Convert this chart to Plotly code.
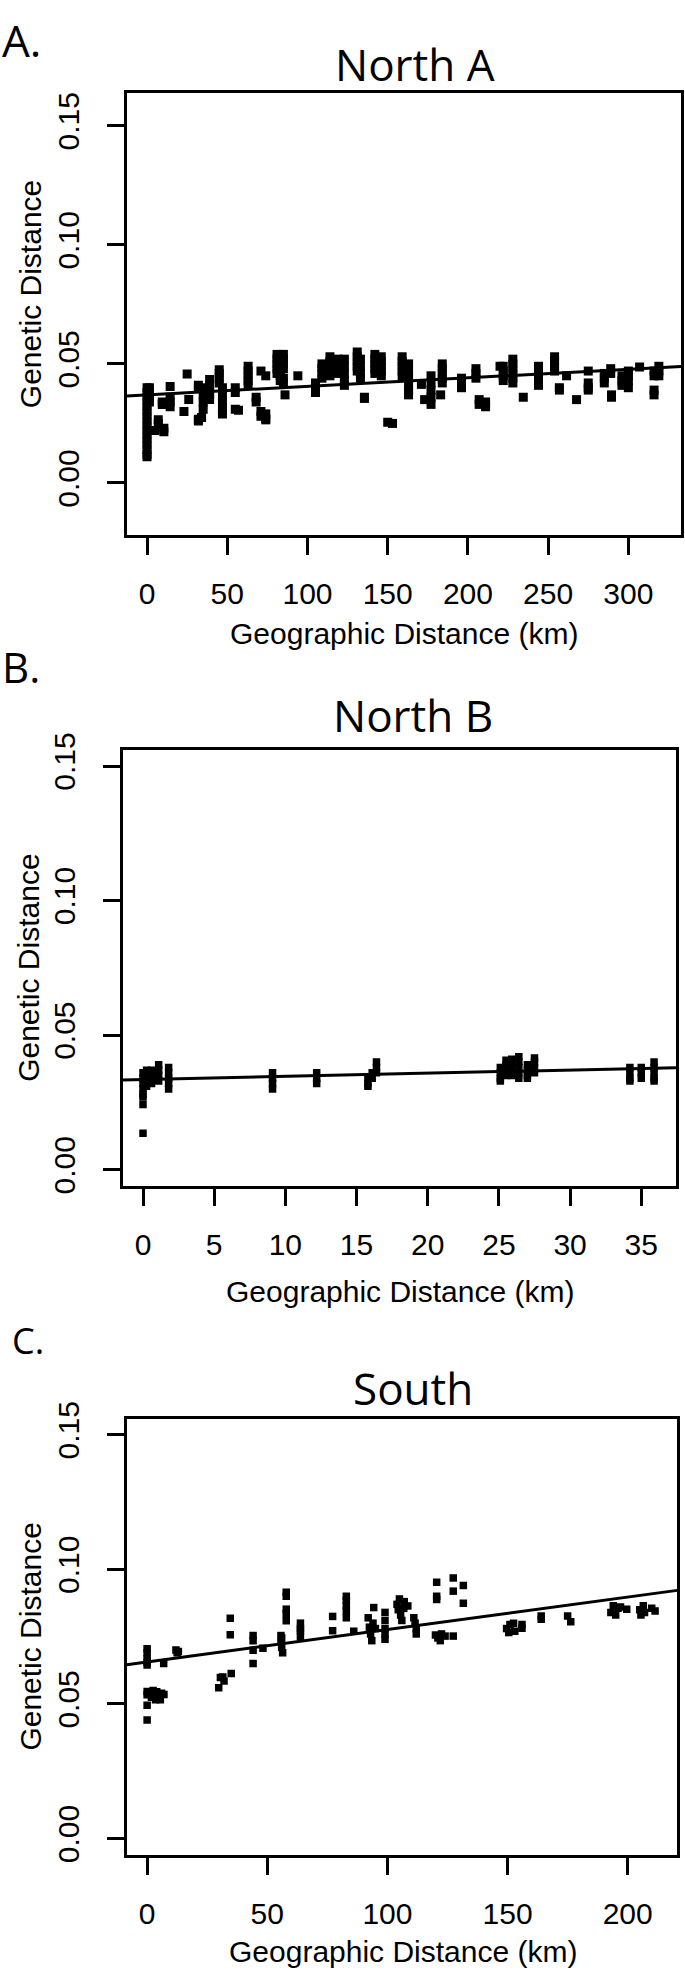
import plotly.graph_objects as go

# ---------------- data ----------------
# Panel A: North A  (geographic distance km, genetic distance)
north_a_km = [
    0, 0, 0, 0, 0, 0, 0, 0, 0, 0, 0, 0, 0, 0, 0, 0,
    1.5, 1.5, 1.5, 1.5,
    5, 7, 7, 9.5, 9.5, 10.5, 10.5,
    14.4, 14.4, 14.4, 14.4,
    23, 25, 26,
    32, 32, 32, 32, 34, 34,
    35, 35, 35,
    39, 39, 39, 39, 39,
    45, 45, 45, 45,
    47, 47, 47, 47, 47,
    55, 55, 55, 57,
    63, 63, 63, 63, 63,
    68, 68,
    71, 71, 71,
    74, 74, 74, 74,
    81, 81, 81, 81, 81,
    83, 83, 83, 83, 83, 83,
    85, 85, 85, 85, 85, 85,
    86, 94,
    105, 105, 105,
    109, 109, 109, 109,
    114, 114, 114, 114, 114,
    119, 119, 119, 119,
    123, 123, 123, 123, 123,
    131, 131, 131, 131, 131,
    133, 133, 133, 133,
    135.5, 135.5,
    142, 142, 142, 142, 142,
    146, 146, 146, 146, 146,
    150, 153,
    159, 159, 159, 159, 159,
    163, 163, 163, 163, 163, 163,
    171, 173,
    177, 177, 177, 177, 177,
    184, 184, 184, 184, 184,
    183,
    196, 196, 196,
    205, 205, 205,
    207, 207, 211, 211,
    220,
    222, 222, 222, 222,
    228, 228, 228, 228, 228, 228,
    234.5,
    244, 244, 244, 244, 244,
    254, 254, 254, 254,
    257, 257,
    261.5, 267.7,
    275, 275, 275, 275,
    285, 285, 285,
    289, 289,
    289.5, 289.5,
    296, 296, 296,
    300, 300, 300, 300,
    307,
    316, 316, 316, 316,
    319, 319, 319,
]
north_a_gd = [
    0.040, 0.038, 0.036, 0.034, 0.032, 0.030, 0.028, 0.026, 0.024, 0.022, 0.020, 0.018, 0.016, 0.014, 0.012, 0.011,
    0.040, 0.038, 0.036, 0.034,
    0.022, 0.0265, 0.025, 0.034, 0.033, 0.0215, 0.023,
    0.0405, 0.036, 0.034, 0.032,
    0.030, 0.0458, 0.035,
    0.0268, 0.026, 0.041, 0.040, 0.0275, 0.040,
    0.037, 0.034, 0.031,
    0.0434, 0.041, 0.039, 0.037, 0.035,
    0.0475, 0.046, 0.044, 0.042,
    0.040, 0.037, 0.034, 0.031, 0.029,
    0.031, 0.040, 0.038, 0.0305,
    0.049, 0.047, 0.045, 0.043, 0.041,
    0.036, 0.034,
    0.030, 0.028, 0.047,
    0.029, 0.027, 0.0265, 0.045,
    0.054, 0.052, 0.050, 0.048, 0.046,
    0.053, 0.051, 0.049, 0.047, 0.045, 0.043,
    0.054, 0.052, 0.050, 0.048, 0.044, 0.042,
    0.037, 0.045,
    0.042, 0.040, 0.038,
    0.050, 0.048, 0.046, 0.044,
    0.053, 0.051, 0.049, 0.047, 0.045,
    0.052, 0.050, 0.048, 0.046,
    0.052, 0.049, 0.046, 0.043, 0.041,
    0.055, 0.053, 0.051, 0.049, 0.047,
    0.052, 0.049, 0.046, 0.044,
    0.0355, 0.036,
    0.054, 0.052, 0.050, 0.048, 0.046,
    0.053, 0.051, 0.049, 0.047, 0.045,
    0.0255, 0.025,
    0.053, 0.051, 0.049, 0.047, 0.045,
    0.050, 0.047, 0.044, 0.041, 0.039, 0.037,
    0.0414, 0.035,
    0.045, 0.042, 0.039, 0.036, 0.033,
    0.050, 0.048, 0.046, 0.044, 0.042,
    0.037,
    0.044, 0.042, 0.040,
    0.048, 0.046, 0.044,
    0.035, 0.033, 0.034, 0.032,
    0.049,
    0.049, 0.047, 0.045, 0.043,
    0.052, 0.050, 0.048, 0.046, 0.044, 0.042,
    0.036,
    0.049, 0.047, 0.045, 0.043, 0.041,
    0.053, 0.051, 0.049, 0.047,
    0.040, 0.039,
    0.045, 0.035,
    0.047, 0.042, 0.040, 0.039,
    0.046, 0.044, 0.042,
    0.048, 0.046,
    0.037, 0.036,
    0.045, 0.043, 0.041,
    0.047, 0.045, 0.043, 0.040,
    0.0487,
    0.047, 0.045, 0.039, 0.037,
    0.049, 0.047, 0.045,
]
north_a_fit = [0.0370, 3.59e-5]      # intercept, slope

# Panel B: North B
north_b_km = [
    0, 0, 0, 0, 0, 0, 0, 0,
    0.25, 0.25, 0.25, 0.25,
    0.6, 0.6, 0.6, 0.6,
    1.1, 1.1, 1.1, 1.1,
    1.8, 1.8, 1.8, 1.8, 1.8,
    9.1, 9.1, 9.1, 9.1,
    12.2, 12.2, 12.2,
    15.8, 15.8, 15.8,
    16.1, 16.1,
    16.4, 16.4, 16.4,
    25.1, 25.1, 25.1, 25.1,
    25.5, 25.5, 25.5, 25.5,
    25.9, 25.9, 25.9, 25.9,
    26.4, 26.4, 26.4, 26.4, 26.4,
    27.0, 27.0, 27.0, 27.0,
    27.5, 27.5, 27.5, 27.5,
    34.2, 34.2, 34.2, 34.2,
    35.0, 35.0, 35.0,
    35.9, 35.9, 35.9, 35.9, 35.9,
]
north_b_gd = [
    0.036, 0.034, 0.032, 0.030, 0.028, 0.027, 0.0242, 0.0135,
    0.037, 0.035, 0.033, 0.031,
    0.037, 0.035, 0.033, 0.032,
    0.039, 0.037, 0.035, 0.033,
    0.038, 0.036, 0.034, 0.032, 0.030,
    0.036, 0.034, 0.032, 0.030,
    0.036, 0.034, 0.032,
    0.034, 0.032, 0.031,
    0.036, 0.034,
    0.040, 0.038, 0.036,
    0.038, 0.036, 0.034, 0.033,
    0.0407, 0.039, 0.037, 0.035,
    0.041, 0.039, 0.037, 0.035,
    0.042, 0.040, 0.038, 0.036, 0.034,
    0.039, 0.037, 0.035, 0.034,
    0.0415, 0.040, 0.038, 0.036,
    0.038, 0.036, 0.034, 0.033,
    0.038, 0.036, 0.034,
    0.040, 0.038, 0.036, 0.034, 0.033,
]
north_b_fit = [0.0335, 1.18e-4]

# Panel C: South
south_km = [
    0, 0, 0, 0, 0, 0, 0, 0, 0,
    1, 1.8, 2.5, 3, 3.5, 4, 4.5, 5, 5.5, 6, 7,
    6.9,
    12, 12.5, 13,
    29.8, 30.5, 31.5, 32, 35,
    34.6, 34.6,
    44.1, 44.1, 44.1, 44.1,
    48.2,
    55.7, 55.7, 56, 56.4, 56,
    57.9, 57.9, 57.9, 57.9, 57.9,
    63.8, 63.8, 63.8, 63.8,
    77.2, 77.2,
    82.9, 82.9, 82.9, 82.9, 82.9,
    86,
    92, 92.5, 93, 93.5, 94, 94.3, 95,
    99, 99, 99, 99, 99,
    104, 104.5, 105, 105.5, 106, 106.8, 107,
    108.5, 111, 111.5, 112, 112,
    120.5, 120.5, 120.5,
    120, 121, 122, 122.5, 124,
    127.4, 127.4, 127.4,
    131.6, 131.6,
    149.6, 150.5, 151, 152.5, 153, 156, 156,
    164, 164,
    175, 176.3,
    193, 194, 195, 196, 197,
    199.6,
    205, 205.5, 206.5, 207,
    210, 211.4,
]
south_gd = [
    0.0705, 0.069, 0.0668, 0.0655, 0.0645, 0.0546, 0.0534, 0.0495, 0.044,
    0.054, 0.0525, 0.055, 0.053, 0.0515, 0.0545, 0.052, 0.053, 0.0515, 0.054, 0.0535,
    0.065,
    0.070, 0.069, 0.0695,
    0.056, 0.0598, 0.060, 0.0585, 0.0613,
    0.0818, 0.0757,
    0.0754, 0.0735, 0.0699, 0.065,
    0.0707,
    0.0754, 0.073, 0.071, 0.069, 0.0745,
    0.0915, 0.090, 0.0852, 0.0835, 0.0809,
    0.080, 0.078, 0.0772, 0.075,
    0.0825, 0.0772,
    0.090, 0.0885, 0.0865, 0.0845, 0.082,
    0.077,
    0.082, 0.0785, 0.076, 0.0735, 0.080, 0.0858, 0.078,
    0.084, 0.081, 0.078, 0.076, 0.074,
    0.087, 0.085, 0.089, 0.083, 0.081, 0.0855, 0.088,
    0.0864, 0.082, 0.080, 0.078, 0.076,
    0.0952, 0.090, 0.0888,
    0.0756, 0.0745, 0.0735, 0.076, 0.0752,
    0.0968, 0.0919, 0.0752,
    0.094, 0.0874,
    0.078, 0.0765, 0.0795, 0.080, 0.077, 0.0781, 0.0795,
    0.0827, 0.0815,
    0.0827, 0.0805,
    0.084, 0.0865, 0.083, 0.0855, 0.086,
    0.0852,
    0.085, 0.083, 0.0865, 0.084,
    0.0855, 0.0845,
]
south_fit = [0.0656, 1.205e-4]

panel_titles = ["North A", "North B", "South"]
panel_letters = ["A.", "B.", "C."]
x_title = "Geographic Distance (km)"
y_title = "Genetic Distance"
y_ticks = [0.00, 0.05, 0.10, 0.15]
x_ticks_a = [0, 50, 100, 150, 200, 250, 300]
x_ticks_b = [0, 5, 10, 15, 20, 25, 30, 35]
x_ticks_c = [0, 50, 100, 150, 200]

# ---------------- layout helpers (pixel geometry of the page) ----------------
W, H = 685, 1980
TICK_FONT = "Liberation Sans, Arial, Helvetica, sans-serif"
TITLE_FONT = "Open Sans, Noto Sans, sans-serif"


def px_x(p):
    return p / W


def px_y(p):
    return 1 - p / H


panels = [
    dict(km=north_a_km, gd=north_a_gd, fit=north_a_fit, xt=x_ticks_a,
         box=(126.5, 681.0, 76.0, 524.0), xr=[-12.8, 332.8], yr=[-0.0218, 0.1638],
         msize=9),
    dict(km=north_b_km, gd=north_b_gd, fit=north_b_fit, xt=x_ticks_b,
         box=(122.5, 676.0, 742.0, 1184.0), xr=[-1.44, 37.44], yr=[-0.006, 0.156],
         msize=7.5),
    dict(km=south_km, gd=south_gd, fit=south_fit, xt=x_ticks_c,
         box=(126.7, 677.2, 1420.0, 1862.0), xr=[-8.5, 220.6], yr=[-0.006, 0.156],
         msize=7.5),
]

fig = go.Figure()
layout = dict(
    width=W, height=H, autosize=False,
    margin=dict(l=0, r=0, t=0, b=0),
    paper_bgcolor="white", plot_bgcolor="white",
    showlegend=False,
)

axis_common = dict(
    showline=True, linecolor="black", linewidth=3, mirror=True,
    ticks="outside", ticklen=17, tickwidth=3, tickcolor="black",
    showgrid=False, zeroline=False,
    tickfont=dict(family=TICK_FONT, size=30, color="black"),
)

for i, p in enumerate(panels):
    n = "" if i == 0 else str(i + 1)
    xa, ya = "x" + n, "y" + n
    x0, x1, y0, y1 = p["box"]
    fig.add_trace(go.Scatter(
        x=p["km"], y=p["gd"], mode="markers", xaxis=xa, yaxis=ya,
        marker=dict(symbol="square", size=p["msize"], color="black",
                    line=dict(width=0)),
        hoverinfo="x+y",
    ))
    b0, b1 = p["fit"]
    fig.add_trace(go.Scatter(
        x=p["xr"], y=[b0 + b1 * v for v in p["xr"]], mode="lines",
        xaxis=xa, yaxis=ya, line=dict(color="black", width=3),
        hoverinfo="skip",
    ))
    layout["xaxis" + n] = dict(
        axis_common, domain=[px_x(x0), px_x(x1)], anchor=ya, range=p["xr"],
        tickvals=p["xt"], ticklabelstandoff=13,
    )
    layout["yaxis" + n] = dict(
        axis_common, domain=[px_y(y1), px_y(y0)], anchor=xa, range=p["yr"],
        tickvals=y_ticks, tickformat=".2f", tickangle=-90, ticklabelstandoff=16,
    )

annotations = []
# panel letters
for txt, (xp, yp, fs) in zip(panel_letters, [(0, 22, 44), (0, 657, 42), (10, 1341, 36)]):
    annotations.append(dict(text=txt, x=px_x(xp), y=px_y(yp), xref="paper", yref="paper",
                            xanchor="left", yanchor="middle", showarrow=False,
                            font=dict(family=TITLE_FONT, size=fs, color="black")))
# panel titles
for txt, (xp, yp) in zip(panel_titles, [(415, 47), (413, 707), (413, 1389)]):
    annotations.append(dict(text=txt, x=px_x(xp), y=px_y(yp), xref="paper", yref="paper",
                            xanchor="center", yanchor="middle", showarrow=False,
                            font=dict(family=TITLE_FONT, size=44, color="black")))
# axis titles
for (xp, yp) in [(404, 624), (400, 1291), (403, 1960)]:
    annotations.append(dict(text=x_title, x=px_x(xp), y=px_y(yp), xref="paper", yref="paper",
                            xanchor="center", yanchor="middle", showarrow=False,
                            font=dict(family=TICK_FONT, size=30, color="black")))
for (xp, yp) in [(30, 280), (29, 963), (31, 1641)]:
    annotations.append(dict(text=y_title, x=px_x(xp), y=px_y(yp), xref="paper", yref="paper",
                            xanchor="center", yanchor="middle", showarrow=False, textangle=-90,
                            font=dict(family=TICK_FONT, size=30, color="black")))
layout["annotations"] = annotations

fig.update_layout(**layout)
# remove the browser's default 8px page margin so the figure sits at (0, 0)
fig.write_html(
    "out.html",
    config={"displayModeBar": False},
    post_script="document.body.style.margin='0px';document.body.style.overflow='hidden';",
)
